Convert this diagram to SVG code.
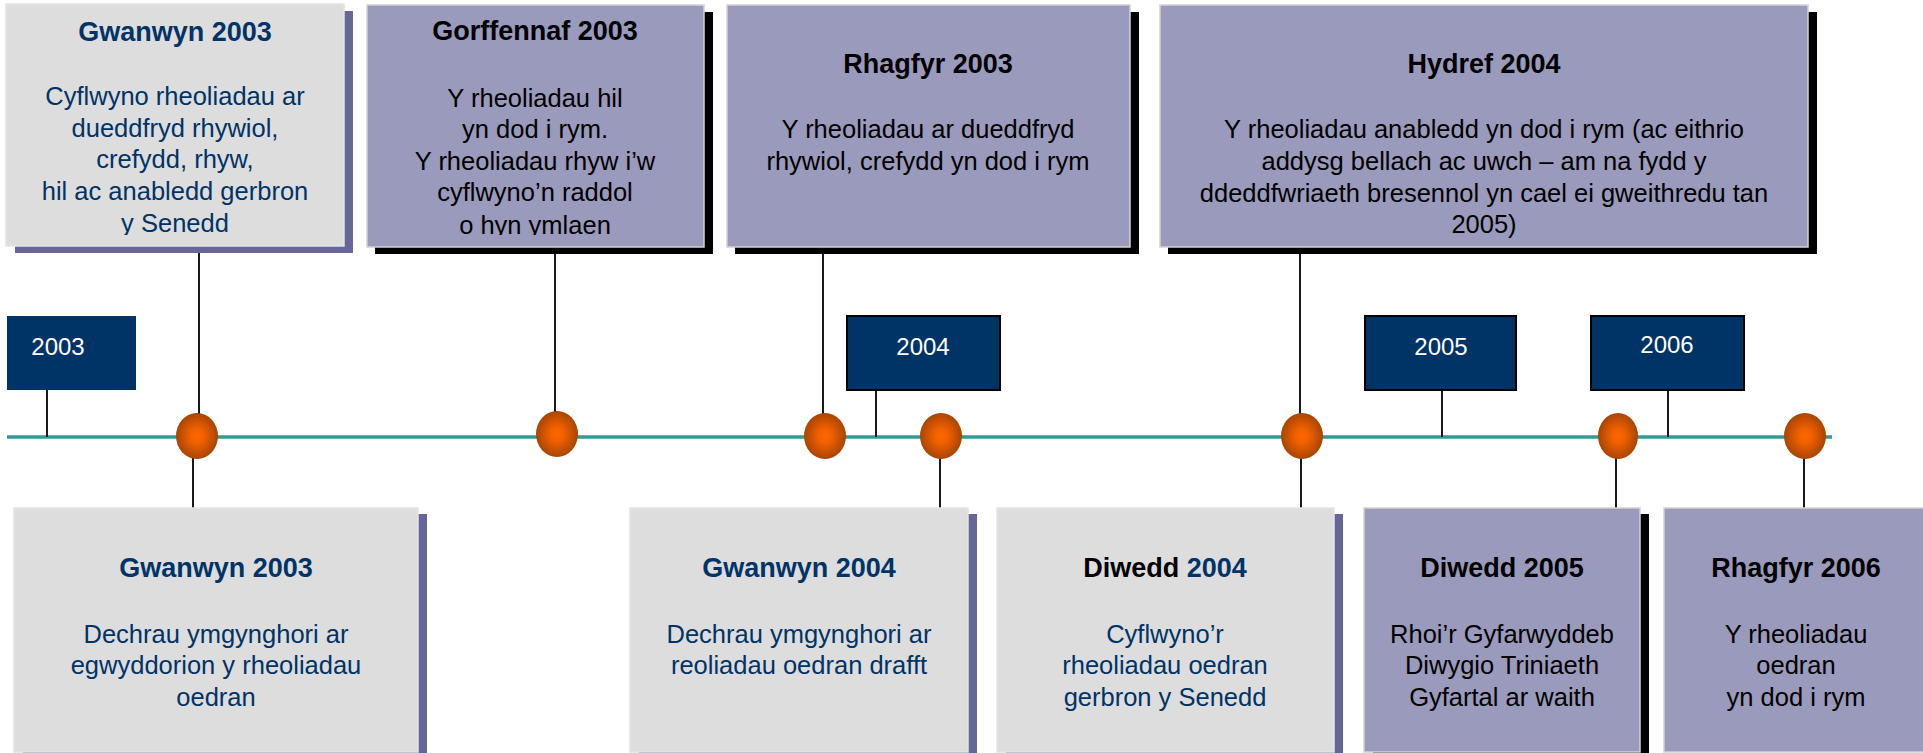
<svg xmlns="http://www.w3.org/2000/svg" width="1923" height="753" viewBox="0 0 1923 753">
<style>
.t{font-family:"Liberation Sans",Arial,sans-serif;font-size:25.5px;text-anchor:middle}
.b{font-weight:bold;font-size:27px}
.nv{fill:#003366}
.bk{fill:#000000}
.lt{fill:#DDDDDD;stroke:#E4E4E4;stroke-width:1.5}
.pu{fill:#9A9ABC;stroke:#D2D2D2;stroke-width:1.5}
.shp{fill:#666699}
.shb{fill:#000000}
.yb{fill:#003366;stroke:#000000;stroke-width:2}
.yt{font-family:"Liberation Sans",Arial,sans-serif;font-size:24px;fill:#FFFFFF;text-anchor:middle}
.ln{stroke:#000000;stroke-width:1.8;fill:none}
.tl{stroke:#339999;stroke-width:3.5;fill:none}
.ov{fill:url(#og)}
</style>
<defs>
<radialGradient id="og" cx="0.5" cy="0.5" r="0.5">
<stop offset="0" stop-color="#FF6600"/>
<stop offset="0.3" stop-color="#F26100"/>
<stop offset="1" stop-color="#A84500"/>
</radialGradient>
<clipPath id="c1"><rect x="0" y="0" width="720" height="235"/></clipPath>
</defs>
<rect width="1923" height="753" fill="#FFFFFF"/>

<g id="connectors">
<line class="tl" x1="7" y1="437" x2="1832" y2="437"/>
<line class="ln" x1="47" y1="390" x2="47" y2="437"/>
<line class="ln" x1="876" y1="390" x2="876" y2="437"/>
<line class="ln" x1="1442" y1="390" x2="1442" y2="437"/>
<line class="ln" x1="1668" y1="390" x2="1668" y2="437"/>
<line class="ln" x1="199" y1="253" x2="199" y2="414"/>
<line class="ln" x1="555" y1="254" x2="555" y2="412"/>
<line class="ln" x1="823" y1="254" x2="823" y2="414"/>
<line class="ln" x1="1300" y1="254" x2="1300" y2="414"/>
<line class="ln" x1="193" y1="458" x2="193" y2="508"/>
<line class="ln" x1="940" y1="458" x2="940" y2="508"/>
<line class="ln" x1="1301" y1="458" x2="1301" y2="508"/>
<line class="ln" x1="1616" y1="458" x2="1616" y2="508"/>
<line class="ln" x1="1804" y1="458" x2="1804" y2="508"/>
</g>

<g id="markers">
<ellipse class="ov" cx="197" cy="436" rx="21" ry="23"/>
<ellipse class="ov" cx="557" cy="434" rx="21" ry="23"/>
<ellipse class="ov" cx="825" cy="436" rx="21" ry="23"/>
<ellipse class="ov" cx="941" cy="436" rx="21" ry="23"/>
<ellipse class="ov" cx="1302" cy="436" rx="21" ry="23"/>
<ellipse class="ov" cx="1618" cy="436" rx="20" ry="23"/>
<ellipse class="ov" cx="1805" cy="436" rx="21" ry="23"/>
</g>

<g id="year2003">
<rect x="7" y="316" width="129" height="74" fill="#003366"/>
<text class="yt" x="58" y="355">2003</text>
</g>
<g id="year2004">
<rect class="yb" x="847" y="316" width="153" height="74"/>
<text class="yt" x="923" y="355">2004</text>
</g>
<g id="year2005">
<rect class="yb" x="1365" y="316" width="151" height="74"/>
<text class="yt" x="1441" y="355">2005</text>
</g>
<g id="year2006">
<rect class="yb" x="1591" y="316" width="153" height="74"/>
<text class="yt" x="1667" y="353">2006</text>
</g>

<g id="top1">
<rect class="shp" x="15" y="11" width="338" height="242"/>
<rect class="lt" x="6" y="4" width="338" height="242"/>
<text class="t b nv" x="175" y="41">Gwanwyn 2003</text>
<g clip-path="url(#c1)">
<text class="t nv" x="175" y="105">Cyflwyno rheoliadau ar</text>
<text class="t nv" x="175" y="137">dueddfryd rhywiol,</text>
<text class="t nv" x="175" y="168">crefydd, rhyw,</text>
<text class="t nv" x="175" y="200">hil ac anabledd gerbron</text>
<text class="t nv" x="175" y="232">y Senedd</text>
</g>
</g>

<g id="top2">
<rect class="shb" x="375" y="12" width="338" height="242"/>
<rect class="pu" x="367" y="5" width="337" height="242"/>
<text class="t b bk" x="535" y="40">Gorffennaf 2003</text>
<g clip-path="url(#c1)">
<text class="t bk" x="535" y="107">Y rheoliadau hil</text>
<text class="t bk" x="535" y="138">yn dod i rym.</text>
<text class="t bk" x="535" y="170">Y rheoliadau rhyw i’w</text>
<text class="t bk" x="535" y="201">cyflwyno’n raddol</text>
<text class="t bk" x="535" y="234">o hyn ymlaen</text>
</g>
</g>

<g id="top3">
<rect class="shb" x="735" y="12" width="404" height="242"/>
<rect class="pu" x="727" y="5" width="403" height="242"/>
<text class="t b bk" x="928" y="73">Rhagfyr 2003</text>
<text class="t bk" x="928" y="138">Y rheoliadau ar dueddfryd</text>
<text class="t bk" x="928" y="170">rhywiol, crefydd yn dod i rym</text>
</g>

<g id="top4">
<rect class="shb" x="1168" y="12" width="649" height="242"/>
<rect class="pu" x="1160" y="5" width="648" height="242"/>
<text class="t b bk" x="1484" y="73">Hydref 2004</text>
<text class="t bk" x="1484" y="138">Y rheoliadau anabledd yn dod i rym (ac eithrio</text>
<text class="t bk" x="1484" y="170">addysg bellach ac uwch – am na fydd y</text>
<text class="t bk" x="1484" y="202">ddeddfwriaeth bresennol yn cael ei gweithredu tan</text>
<text class="t bk" x="1484" y="233">2005)</text>
</g>

<g id="bottom1">
<rect class="shp" x="23" y="514" width="404" height="245"/>
<rect class="lt" x="14" y="508" width="404" height="244"/>
<text class="t b nv" x="216" y="577">Gwanwyn 2003</text>
<text class="t nv" x="216" y="643">Dechrau ymgynghori ar</text>
<text class="t nv" x="216" y="674">egwyddorion y rheoliadau</text>
<text class="t nv" x="216" y="706">oedran</text>
</g>

<g id="bottom2">
<rect class="shp" x="639" y="514" width="338" height="245"/>
<rect class="lt" x="630" y="508" width="338" height="244"/>
<text class="t b nv" x="799" y="577">Gwanwyn 2004</text>
<text class="t nv" x="799" y="643">Dechrau ymgynghori ar</text>
<text class="t nv" x="799" y="674">reoliadau oedran drafft</text>
</g>

<g id="bottom3">
<rect class="shp" x="1006" y="514" width="337" height="245"/>
<rect class="lt" x="997" y="508" width="337" height="244"/>
<text class="t b" x="1165" y="577"><tspan class="bk">Diwedd </tspan><tspan class="nv">2004</tspan></text>
<text class="t nv" x="1165" y="643">Cyflwyno’r</text>
<text class="t nv" x="1165" y="674">rheoliadau oedran</text>
<text class="t nv" x="1165" y="706">gerbron y Senedd</text>
</g>

<g id="bottom4">
<rect class="shb" x="1373" y="514" width="276" height="245"/>
<rect class="pu" x="1364" y="508" width="276" height="244"/>
<text class="t b bk" x="1502" y="577">Diwedd 2005</text>
<text class="t bk" x="1502" y="643">Rhoi’r Gyfarwyddeb</text>
<text class="t bk" x="1502" y="674">Diwygio Triniaeth</text>
<text class="t bk" x="1502" y="706">Gyfartal ar waith</text>
</g>

<g id="bottom5">
<rect class="pu" x="1664" y="508" width="270" height="244"/>
<text class="t b bk" x="1796" y="577">Rhagfyr 2006</text>
<text class="t bk" x="1796" y="643">Y rheoliadau</text>
<text class="t bk" x="1796" y="674">oedran</text>
<text class="t bk" x="1796" y="706">yn dod i rym</text>
</g>
</svg>
